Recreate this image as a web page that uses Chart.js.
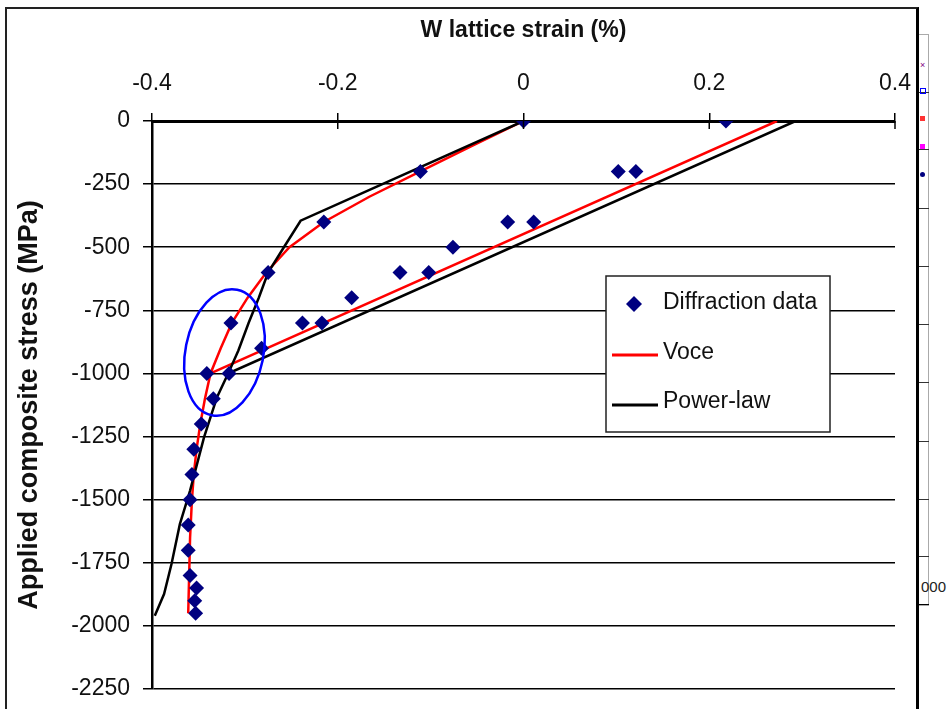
<!DOCTYPE html>
<html>
<head>
<meta charset="utf-8">
<title>W lattice strain</title>
<script src="https://cdn.jsdelivr.net/npm/chart.js@4.4.0/dist/chart.umd.min.js"></script>
<style>
  html, body { margin: 0; padding: 0; background: #fff; overflow: hidden; }
  #wrap { position: relative; width: 948px; height: 709px; }
  #frame { position: absolute; left: 5px; top: 7px; width: 909px; height: 730px;
           border-left: 2px solid #222; border-top: 2px solid #222; border-right: 3px solid #000; }
  #side { position: absolute; left: 919px; top: 34px; width: 9px; height: 570px;
          border: 1px solid #aaa; border-left: none; }
  .tk { position: absolute; left: 919px; width: 10px; height: 1px; background: #333; }
  .mk { position: absolute; left: 920px; width: 5px; height: 5px; }
  #zeros { position: absolute; left: 921px; top: 578px; font: 15px "Liberation Sans", Arial, sans-serif; color: #222; }
  canvas { position: absolute; left: 0; top: 0; }
</style>
</head>
<body>
<div id="wrap">
  <div id="frame"></div>
  <div id="side"></div>
  <div class="tk" style="top:92px"></div>
  <div class="tk" style="top:149px"></div>
  <div class="tk" style="top:208px"></div>
  <div class="tk" style="top:266px"></div>
  <div class="tk" style="top:324px"></div>
  <div class="tk" style="top:382px"></div>
  <div class="tk" style="top:441px"></div>
  <div class="tk" style="top:499px"></div>
  <div class="tk" style="top:556px"></div>
  <div class="tk" style="top:604px;background:#000"></div>
  <div class="mk" style="top:60px;color:#800080;font:9px sans-serif;">×</div>
  <div class="mk" style="top:88px;border:1px solid #00f;width:4px;height:4px"></div>
  <div class="mk" style="top:116px;background:#f33"></div>
  <div class="mk" style="top:144px;background:#f0f"></div>
  <div class="mk" style="top:172px;background:#000080;border-radius:50%"></div>
  <div id="zeros">000</div>
  <canvas id="graphique" width="948" height="709"></canvas>
</div>
<script>
// données
const xTicks = [-0.4, -0.2, 0, 0.2, 0.4];
const yTicks = [0, -250, -500, -750, -1000, -1250, -1500, -1750, -2000, -2250];

// Diffraction data (points)
const diffX = [0, 0.218, -0.111, 0.102, 0.121, -0.215, -0.017, 0.011, -0.076, -0.275,
               -0.133, -0.102, -0.185, -0.315, -0.238, -0.217, -0.282, -0.341, -0.317, -0.334,
               -0.347, -0.355, -0.357, -0.359, -0.361, -0.361, -0.359, -0.352, -0.354, -0.353];
const diffY = [0, 0, -200, -200, -200, -400, -400, -400, -500, -600,
               -600, -600, -700, -800, -800, -800, -900, -1000, -1000, -1100,
               -1200, -1300, -1400, -1500, -1600, -1700, -1800, -1850, -1900, -1950];

// Voce (chargement, décharge, recharge)
const voceX = [0, -0.056, -0.111, -0.166, -0.215, -0.252, -0.277, -0.297, -0.314, -0.326, -0.337,
               0.273, -0.337, -0.343, -0.348, -0.352, -0.355, -0.357, -0.359, -0.360, -0.361];
const voceY = [0, -100, -200, -300, -400, -500, -600, -700, -800, -900, -1000,
               0, -1000, -1100, -1200, -1300, -1400, -1500, -1650, -1800, -1950];

// Power-law
const powX = [0, -0.240, -0.258, -0.275, -0.285, -0.296, -0.307, -0.318,
              0.293, -0.318, -0.330, -0.344, -0.359, -0.370, -0.379, -0.387, -0.397];
const powY = [0, -395, -500, -600, -700, -800, -909, -1000,
              0, -1000, -1094, -1253, -1464, -1597, -1755, -1874, -1960];

const FONT = '"Liberation Sans", Arial, sans-serif';
const toPts = (xs, ys) => xs.map((v, i) => ({ x: v, y: ys[i] }));

// ellipse bleue + ticks sous l'axe + légende dessinée à la main
const extras = {
  id: 'extras',
  afterDatasetsDraw(chart) {
    const { ctx, scales: { x, y } } = chart;
    const cx = x.getPixelForValue(-0.322), cy = y.getPixelForValue(-917);
    ctx.save();
    ctx.strokeStyle = '#0000ff';
    ctx.lineWidth = 2.5;
    ctx.beginPath();
    ctx.ellipse(cx, cy, 39, 64, 0.2, 0, Math.PI * 2);
    ctx.stroke();
    ctx.restore();
  },
  afterDraw(chart) {
    const { ctx, chartArea: a, scales: { x } } = chart;
    ctx.save();
    ctx.strokeStyle = '#000';
    ctx.lineWidth = 1.5;
    xTicks.forEach(v => {
      const px = x.getPixelForValue(v);
      ctx.beginPath(); ctx.moveTo(px, a.top); ctx.lineTo(px, a.top + 8); ctx.stroke();
    });

    // légende
    const lx = a.left + 454, ly = a.top + 155;
    ctx.fillStyle = '#fff';
    ctx.fillRect(lx, ly, 224, 156);
    ctx.strokeStyle = '#222';
    ctx.lineWidth = 1.5;
    ctx.strokeRect(lx, ly, 224, 156);

    ctx.fillStyle = '#000080';
    ctx.beginPath();
    ctx.moveTo(lx + 28, ly + 20); ctx.lineTo(lx + 36, ly + 28);
    ctx.lineTo(lx + 28, ly + 36); ctx.lineTo(lx + 20, ly + 28);
    ctx.closePath(); ctx.fill();

    ctx.lineWidth = 3;
    ctx.strokeStyle = '#ff0000';
    ctx.beginPath(); ctx.moveTo(lx + 6, ly + 79); ctx.lineTo(lx + 52, ly + 79); ctx.stroke();
    ctx.strokeStyle = '#000';
    ctx.beginPath(); ctx.moveTo(lx + 6, ly + 129); ctx.lineTo(lx + 52, ly + 129); ctx.stroke();

    ctx.fillStyle = '#111';
    ctx.font = '23px ' + FONT;
    ctx.textBaseline = 'middle';
    ctx.fillText('Diffraction data', lx + 57, ly + 27);
    ctx.fillText('Voce', lx + 57, ly + 77);
    ctx.fillText('Power-law', lx + 57, ly + 126);
    ctx.restore();
  }
};

new Chart(document.getElementById('graphique'), {
  type: 'scatter',
  data: {
    datasets: [
      { label: 'Diffraction data', data: toPts(diffX, diffY), pointStyle: 'rectRot',
        pointRadius: 7.5, pointHoverRadius: 7.5, backgroundColor: '#000080', borderWidth: 0 },
      { label: 'Power-law', data: toPts(powX, powY), showLine: true, borderColor: '#000',
        borderWidth: 2.5, pointRadius: 0, tension: 0 },
      { label: 'Voce', data: toPts(voceX, voceY), showLine: true, borderColor: '#ff0000',
        borderWidth: 2.5, pointRadius: 0, tension: 0 }
    ]
  },
  options: {
    responsive: false,
    animation: false,
    layout: { padding: { left: 0, top: 0, right: 53, bottom: 20 } },
    plugins: { legend: { display: false }, tooltip: { enabled: false } },
    scales: {
      x: {
        type: 'linear', position: 'top', min: -0.4, max: 0.4,
        afterBuildTicks: s => { s.ticks = xTicks.map(v => ({ value: v })); },
        afterFit: s => { s.height = 121; },
        ticks: { callback: v => String(v), color: '#111', padding: 16, font: { family: FONT, size: 23 } },
        grid: { drawOnChartArea: false, color: '#000', lineWidth: 1.5, tickLength: 8 },
        border: { color: '#000', width: 3 },
        title: { display: true, text: 'W lattice strain (%)', color: '#111',
                 font: { family: FONT, size: 23, weight: 'bold' }, padding: { top: 17, bottom: 0 } }
      },
      y: {
        min: -2250, max: 0,
        afterBuildTicks: s => { s.ticks = yTicks.map(v => ({ value: v })); },
        afterFit: s => { s.width = 152; s.paddingTop = 0; s.paddingBottom = 0; },
        ticks: { callback: v => String(v), color: '#111', padding: 13, font: { family: FONT, size: 23 } },
        grid: { color: '#000', lineWidth: 1.5, tickLength: 9 },
        border: { color: '#000', width: 2.5 },
        title: { display: true, text: 'Applied composite stress (MPa)', color: '#111',
                 font: { family: FONT, size: 27, weight: 'bold' }, padding: { top: 13, bottom: 0 } }
      }
    }
  },
  plugins: [extras]
});
</script>
</body>
</html>
